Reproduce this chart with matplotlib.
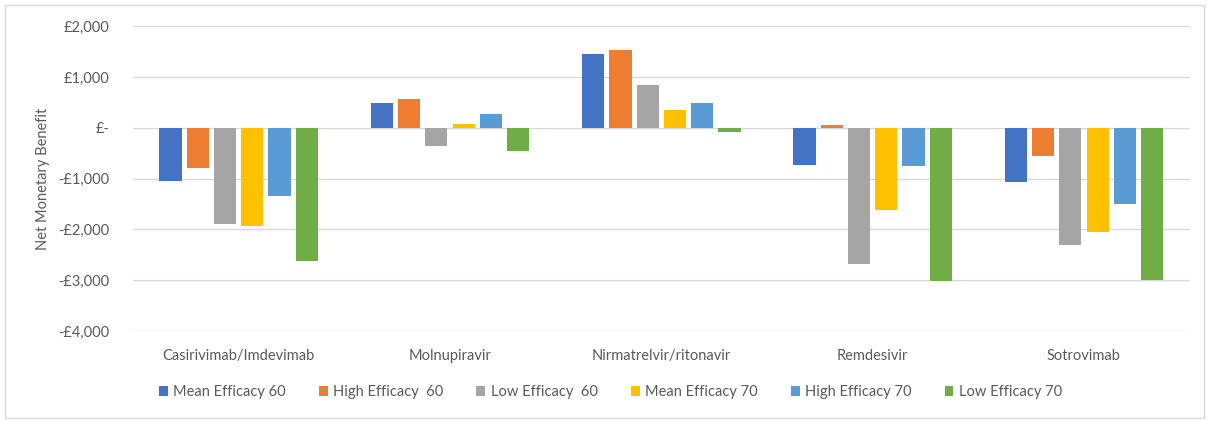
import numpy as np
import matplotlib.pyplot as plt
from matplotlib.patches import Rectangle

plt.rcParams['font.family'] = ['Lato', 'DejaVu Sans']

drugs = ['Casirivimab/Imdevimab', 'Molnupiravir', 'Nirmatrelvir/ritonavir',
         'Remdesivir', 'Sotrovimab']
series = ['Mean Efficacy 60', 'High Efficacy  60', 'Low Efficacy  60',
          'Mean Efficacy 70', 'High Efficacy 70', 'Low Efficacy 70']
colors = ['#4472C4', '#ED7D31', '#A5A5A5', '#FFC000', '#5B9BD5', '#70AD47']

mean_60 = [-1040, 480, 1450, -740, -1070]
high_60 = [-790, 570, 1530, 60, -560]
low_60 = [-1900, -370, 850, -2680, -2310]
mean_70 = [-1940, 80, 350, -1620, -2050]
high_70 = [-1350, 270, 480, -760, -1500]
low_70 = [-2620, -460, -80, -3020, -2990]
values = [mean_60, high_60, low_60, mean_70, high_70, low_70]

yticks = [2000, 1000, 0, -1000, -2000, -3000, -4000]
ytick_labels = ['£2,000', '£1,000', '£-', '-£1,000', '-£2,000', '-£3,000', '-£4,000']

fig = plt.figure(figsize=(12.09, 4.21), dpi=100)
# light grey frame round the whole chart
fig.patches.append(Rectangle((0.004, 0.007), 0.992, 0.982, transform=fig.transFigure,
                             fill=False, edgecolor='#D9D9D9', linewidth=1))
ax = fig.add_axes([0.110, 0.214, 0.874, 0.724])

x = np.arange(len(drugs))
slot = 0.129
width = 0.105
for i, (name, vals) in enumerate(zip(series, values)):
    ax.bar(x + (i - 2.5) * slot, vals, width, color=colors[i], label=name, zorder=3)

ax.set_xlim(-0.5, len(drugs) - 0.5)
ax.set_ylim(-4000, 2000)
ax.set_yticks(yticks)
ax.set_yticklabels(ytick_labels)
ax.set_xticks(x)
ax.set_xticklabels(drugs)
ax.tick_params(axis='both', length=0, colors='#595959', labelsize=10.5)
ax.tick_params(axis='x', pad=13)
ax.tick_params(axis='y', pad=17)
ax.grid(axis='y', color='#D9D9D9', linewidth=1, zorder=0)
for s in ax.spines.values():
    s.set_visible(False)
ax.set_ylabel('Net Monetary Benefit', color='#595959', fontsize=10.5, labelpad=6)

ax.legend(loc='upper center', bbox_to_anchor=(0.452, -0.135), ncol=6, frameon=False,
          fontsize=10.5, labelcolor='#595959', handlelength=0.6, handleheight=0.6,
          handletextpad=0.4, columnspacing=2.25)

plt.savefig('out.png', dpi=100)
